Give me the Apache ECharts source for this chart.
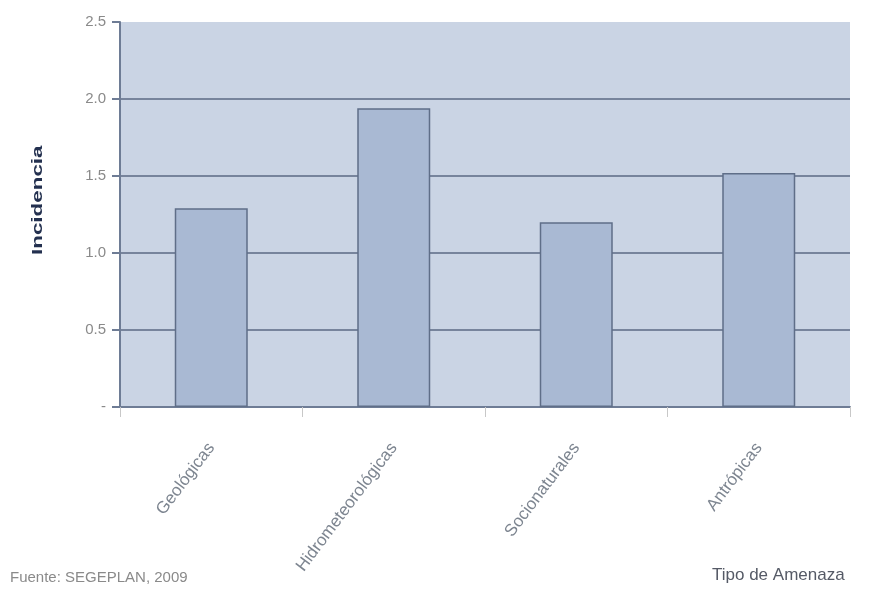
<!DOCTYPE html>
<html>
<head>
<meta charset="utf-8">
<script src="https://cdn.jsdelivr.net/npm/echarts@6/dist/echarts.min.js"></script>
<style>html,body{margin:0;padding:0;background:#fff}#c{width:890px;height:606px}</style>
</head>
<body>
<div id="c"></div>
<script>
const categories = ["Geológicas", "Hidrometeorológicas", "Socionaturales", "Antrópicas"];
const incidencia = [1.29, 1.94, 1.20, 1.52];
const yTickLabels = {0: "-", 0.5: "0.5", 1: "1.0", 1.5: "1.5", 2: "2.0", 2.5: "2.5"};

const font = "'Liberation Sans Narrow', 'Liberation Sans', Arial, sans-serif";
const chart = echarts.init(document.getElementById('c'), null, {renderer: 'canvas'});
chart.setOption({
  animation: false,
  backgroundColor: '#ffffff',
  grid: {left: 120, right: 40, top: 22, bottom: 199, show: true, backgroundColor: '#cad4e4', borderWidth: 0},
  xAxis: {
    type: 'category',
    data: categories,
    axisLine: {show: true, lineStyle: {color: '#6e7c95', width: 2}},
    axisTick: {show: true, alignWithLabel: false, length: 10, lineStyle: {color: '#c8c8c8', width: 1}},
    axisLabel: {rotate: 53, color: '#7d8590', fontFamily: font, fontSize: 17, margin: 38, interval: 0}
  },
  yAxis: {
    type: 'value',
    min: 0, max: 2.5, interval: 0.5,
    axisLine: {show: true, lineStyle: {color: '#6e7c95', width: 2}},
    axisTick: {show: true, inside: false, length: 8, lineStyle: {color: '#6e7c95', width: 2}},
    axisLabel: {color: '#8a8a8a', fontFamily: font, fontSize: 15, margin: 14,
      formatter: v => yTickLabels[v] !== undefined ? yTickLabels[v] : String(v)},
    splitLine: {show: true, showMinLine: false, showMaxLine: false, lineStyle: {color: '#77849c', width: 2}}
  },
  series: [{
    type: 'bar',
    data: incidencia,
    barWidth: '40%',
    itemStyle: {color: '#a9b9d3', borderColor: '#5f6e88', borderWidth: 1.5}
  }],
  graphic: [
    {type: 'text', x: 31, y: 255, rotation: Math.PI / 2, scaleX: 1.6, scaleY: 1,
      style: {text: 'Incidencia', fill: '#23304f', font: 'bold 14px ' + font}},
    {type: 'text', left: 10, top: 570,
      style: {text: 'Fuente: SEGEPLAN, 2009', fill: '#8a8a8a', font: '15px ' + font}},
    {type: 'text', left: 712, top: 567,
      style: {text: 'Tipo de Amenaza', fill: '#555a66', font: '17px ' + font}}
  ]
});
</script>
</body>
</html>
